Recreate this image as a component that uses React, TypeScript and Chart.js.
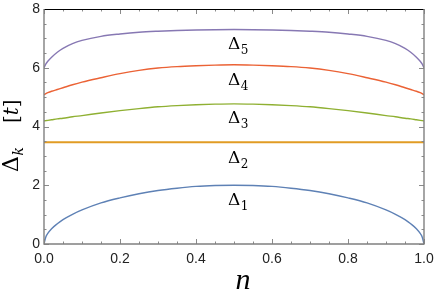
import React, { useEffect, useRef } from "react";
import { Chart, registerables } from "chart.js";

Chart.register(...registerables);

const N = [0, 0.005, 0.01, 0.02, 0.035, 0.05, 0.075, 0.1, 0.15, 0.2, 0.25, 0.3, 0.35, 0.4, 0.45, 0.5, 0.55, 0.6, 0.65, 0.7, 0.75, 0.8, 0.85, 0.9, 0.925, 0.95, 0.965, 0.98, 0.99, 0.995, 1];
const D1 = [0, 0.25, 0.36, 0.52, 0.69, 0.83, 1.01, 1.16, 1.4, 1.57, 1.71, 1.82, 1.9, 1.96, 1.99, 2.0, 1.99, 1.96, 1.9, 1.82, 1.71, 1.57, 1.4, 1.16, 1.01, 0.83, 0.69, 0.52, 0.36, 0.25, 0];
const D2 = [3.46, 3.46, 3.46, 3.46, 3.46, 3.46, 3.46, 3.46, 3.46, 3.46, 3.46, 3.46, 3.46, 3.46, 3.46, 3.46, 3.46, 3.46, 3.46, 3.46, 3.46, 3.46, 3.46, 3.46, 3.46, 3.46, 3.46, 3.46, 3.46, 3.46, 3.46];
const D3 = [4.19, 4.2, 4.21, 4.23, 4.26, 4.28, 4.33, 4.37, 4.46, 4.54, 4.61, 4.67, 4.71, 4.74, 4.76, 4.77, 4.76, 4.74, 4.71, 4.67, 4.61, 4.54, 4.46, 4.37, 4.33, 4.28, 4.26, 4.23, 4.21, 4.2, 4.19];
const D4 = [5.08, 5.12, 5.15, 5.2, 5.26, 5.32, 5.42, 5.51, 5.66, 5.8, 5.91, 5.99, 6.04, 6.07, 6.09, 6.1, 6.09, 6.07, 6.04, 5.99, 5.91, 5.8, 5.66, 5.51, 5.42, 5.32, 5.26, 5.2, 5.15, 5.12, 5.08];
const D5 = [6.0, 6.13, 6.22, 6.36, 6.53, 6.66, 6.82, 6.93, 7.07, 7.15, 7.21, 7.245, 7.27, 7.285, 7.295, 7.3, 7.295, 7.285, 7.27, 7.245, 7.21, 7.15, 7.07, 6.93, 6.82, 6.66, 6.53, 6.36, 6.22, 6.13, 6.0];
const SERIES = [D1, D2, D3, D4, D5];
const COLORS = ["#5E81B5", "#E19C24", "#8FB032", "#EB6235", "#8778B3"];
const LABEL_SUBS = ["1", "2", "3", "4", "5"];
const LABEL_Y = [1.34, 2.75, 4.13, 5.42, 6.63];
const LABEL_X = 0.484;

const framePlugin = {
  id: "framePlugin",
  afterDraw(chart: any) {
    const ctx = chart.ctx as CanvasRenderingContext2D;
    const { left, right, top, bottom } = chart.chartArea;
    const xs = chart.scales.x;
    const ys = chart.scales.y;
    ctx.save();
    // ticks
    ctx.strokeStyle = "#8a8a8a";
    ctx.lineWidth = 1;
    for (let i = 0; i <= 20; i++) {
      const v = i * 0.05;
      const px = Math.round(xs.getPixelForValue(v)) + 0.5;
      const len = i % 4 === 0 ? 5 : 2.5;
      ctx.beginPath();
      ctx.moveTo(px, bottom);
      ctx.lineTo(px, bottom - len);
      ctx.moveTo(px, top);
      ctx.lineTo(px, top + len);
      ctx.stroke();
    }
    for (let i = 0; i <= 16; i++) {
      const v = i * 0.5;
      const py = Math.round(ys.getPixelForValue(v)) + 0.5;
      const len = i % 4 === 0 ? 5 : 2.5;
      ctx.beginPath();
      ctx.moveTo(left, py);
      ctx.lineTo(left + len, py);
      ctx.moveTo(right, py);
      ctx.lineTo(right - len, py);
      ctx.stroke();
    }
    // frame
    ctx.strokeStyle = "#000";
    ctx.lineWidth = 1;
    ctx.beginPath();
    ctx.moveTo(left, top + 0.5);
    ctx.lineTo(right, top + 0.5);
    ctx.stroke();
    ctx.strokeStyle = "#808080";
    ctx.lineWidth = 1.4;
    ctx.beginPath();
    ctx.moveTo(left, top);
    ctx.lineTo(left, bottom);
    ctx.lineTo(right, bottom);
    ctx.lineTo(right, top);
    ctx.stroke();

    // curve labels
    ctx.fillStyle = "#000";
    ctx.textAlign = "left";
    ctx.textBaseline = "alphabetic";
    for (let i = 0; i < LABEL_SUBS.length; i++) {
      const x = xs.getPixelForValue(LABEL_X);
      const y = ys.getPixelForValue(LABEL_Y[i]);
      ctx.font = "17px 'DejaVu Serif'";
      ctx.fillText("Δ", x, y);
      const w = ctx.measureText("Δ").width;
      ctx.font = "12px 'DejaVu Serif'";
      ctx.fillText(LABEL_SUBS[i], x + w + 0.5, y + 5);
    }

    // x title
    ctx.font = "italic 30px 'Liberation Serif'";
    ctx.textAlign = "center";
    ctx.fillText("n", 243, 289);

    // y title
    ctx.translate(18, 172);
    ctx.rotate(-Math.PI / 2);
    ctx.textAlign = "left";
    ctx.font = "22px 'DejaVu Serif'";
    ctx.fillText("Δ", 0, 0);
    let cx = ctx.measureText("Δ").width;
    ctx.font = "italic 14px 'DejaVu Serif'";
    ctx.fillText("k", cx + 0.5, 5);
    cx = 49;
    ctx.font = "20px 'DejaVu Serif'";
    ctx.fillText("[", cx, 0);
    cx += ctx.measureText("[").width;
    ctx.font = "italic 20px 'DejaVu Serif'";
    ctx.fillText("t", cx, 0);
    cx += ctx.measureText("t").width;
    ctx.font = "20px 'DejaVu Serif'";
    ctx.fillText("]", cx, 0);
    ctx.restore();
  },
};

export default function App() {
  const ref = useRef<HTMLCanvasElement>(null);
  useEffect(() => {
    const canvas = ref.current!;
    const chart = new Chart(canvas, {
      type: "line",
      data: {
        datasets: SERIES.map((s, k) => ({
          data: N.map((n, i) => ({ x: n, y: s[i] })),
          borderColor: COLORS[k],
          borderWidth: k === 1 ? 2 : 1.4,
          pointRadius: 0,
          fill: false,
          cubicInterpolationMode: "monotone" as const,
        })),
      },
      options: {
        animation: false,
        responsive: false,
        maintainAspectRatio: false,
        layout: { padding: { top: 9, right: 12, left: 0, bottom: 0 } },
        plugins: { legend: { display: false }, tooltip: { enabled: false } },
        scales: {
          x: {
            type: "linear",
            min: 0,
            max: 1,
            afterFit: (s: any) => {
              s.height = 49;
              s.paddingLeft = 0;
              s.paddingRight = 0;
              s.paddingTop = 0;
              s.paddingBottom = 0;
            },
            grid: { display: false, drawTicks: false },
            border: { display: false },
            ticks: {
              stepSize: 0.2,
              padding: 7,
              color: "#222",
              font: { family: "'Liberation Sans', Arial", size: 14 },
              callback: (v: any) => Number(v).toFixed(1),
              maxRotation: 0,
            },
          },
          y: {
            type: "linear",
            min: 0,
            max: 8,
            afterFit: (s: any) => {
              s.width = 44;
              s.paddingLeft = 0;
              s.paddingRight = 0;
              s.paddingTop = 0;
              s.paddingBottom = 0;
            },
            grid: { display: false, drawTicks: false },
            border: { display: false },
            ticks: {
              stepSize: 2,
              padding: 4,
              color: "#222",
              font: { family: "'Liberation Sans', Arial", size: 14 },
            },
          },
        },
      },
      plugins: [framePlugin],
    });
    return () => chart.destroy();
  }, []);
  return (
    <div style={{ position: "fixed", left: 0, top: 0, width: 436, height: 293, background: "#fff" }}>
      <canvas ref={ref} width={436} height={293} style={{ width: 436, height: 293, display: "block" }} />
    </div>
  );
}
